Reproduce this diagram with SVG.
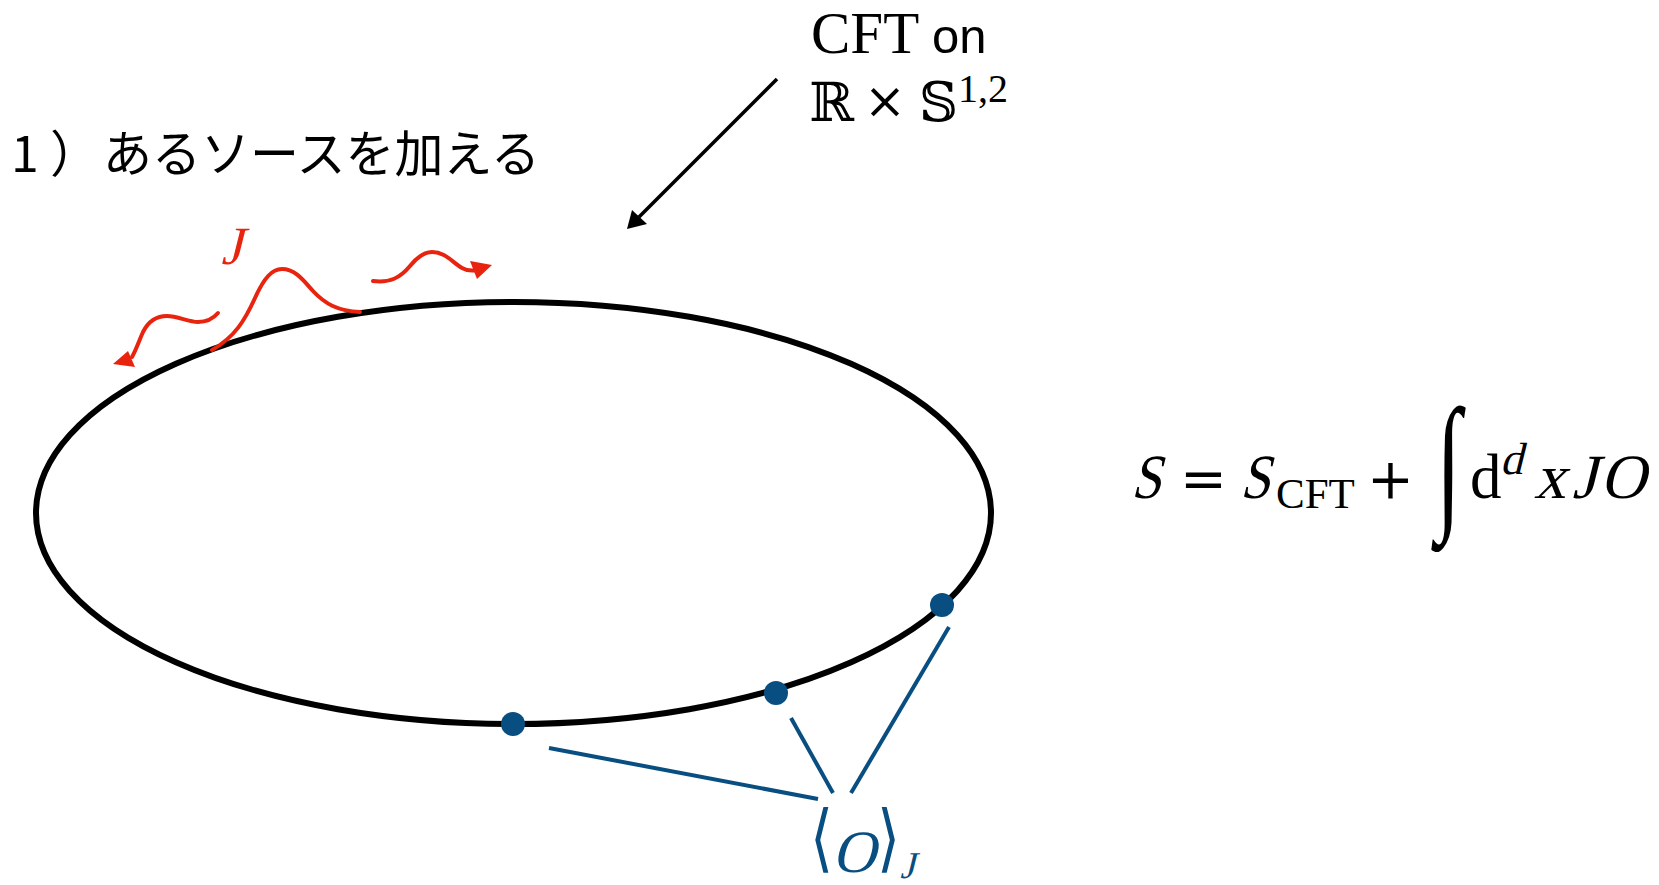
<svg xmlns="http://www.w3.org/2000/svg" width="1659" height="885" viewBox="0 0 1659 885">
<defs>
<style>
.serif{font-family:"Liberation Serif","Times New Roman","DejaVu Serif",serif;fill:#000}
.sans{font-family:"Liberation Sans",Arial,sans-serif;fill:#000}
.math{font-family:"DejaVu Serif","DejaVu Sans",serif;fill:#000}
.jp{font-family:"Noto Sans CJK JP",sans-serif;fill:#000}
.red{stroke:#e8240f;stroke-width:4;fill:none;stroke-linecap:round}
.redfill{fill:#e8240f}
.blue{stroke:#084e80;stroke-width:4;fill:none}
.dot{fill:#084e80}
</style>
</defs>
<rect width="1659" height="885" fill="#fff"/>
<g id="title">
<text class="serif" x="811" y="53" font-size="59">CFT</text>
<text class="sans" x="932" y="53" font-size="49">on</text>
<text class="math" x="809" y="121" font-size="54">ℝ</text>
<text class="math" x="864" y="118" font-size="50">×</text>
<text class="math" x="919" y="121" font-size="54">𝕊</text>
<text class="serif" x="958" y="102" font-size="40">1,2</text>
</g>
<g id="step-label">
<text class="jp" x="11" y="172" font-size="50">1</text>
<text class="jp" x="50" y="172" font-size="50">）</text>
<text class="jp" x="103" y="172" font-size="50" textLength="437" lengthAdjust="spacingAndGlyphs">あるソースを加える</text>
</g>
<g id="ellipse">
<ellipse cx="513.5" cy="513" rx="477.5" ry="211" fill="none" stroke="#000" stroke-width="6"/>
</g>
<g id="source">
<text class="serif" transform="translate(221,264) skewX(-14)" font-size="54" style="fill:#e8240f">J</text>
<path class="red" d="M212,350 C235,337 245,320 255,298 C264,278 272,269 282,269 C295,269 303,280 313,291 C325,304 338,311 360,312"/>
<path class="red" d="M218,313 C212,320 205,322 198,322 C188,322 178,316 167,316 C155,316 148,322 143,332 C139,341 136,350 132,357"/>
<polygon class="redfill" points="113,364 128,351 135,367"/>
<path class="red" d="M373,281 C390,283 400,278 410,266 C418,256 425,252 432,252 C445,252 452,262 462,268 C467,271 472,271 478,270"/>
<polygon class="redfill" points="492,265 470,261 477,279"/>
</g>
<g id="connectors">
<line x1="777" y1="79" x2="639" y2="217" stroke="#000" stroke-width="3.5"/>
<polygon points="627,229 632,210 647,224" fill="#000"/>
<line class="blue" x1="549" y1="748" x2="818" y2="799"/>
<line class="blue" x1="791" y1="718" x2="833" y2="793"/>
<line class="blue" x1="949" y1="627" x2="851" y2="793"/>
</g>
<g id="points">
<circle class="dot" cx="513" cy="724" r="12"/>
<circle class="dot" cx="776" cy="693" r="12"/>
<circle class="dot" cx="942" cy="605" r="12"/>
</g>
<g id="expectation">
<text class="math" transform="translate(810,863) scale(0.8,1)" font-size="74" style="fill:#084e80">⟨</text>
<text class="serif" transform="translate(832,872) skewX(-14)" font-size="60" style="fill:#084e80">O</text>
<text class="math" transform="translate(877,863) scale(0.8,1)" font-size="74" style="fill:#084e80">⟩</text>
<text class="serif" transform="translate(900,878) skewX(-14)" font-size="38" style="fill:#084e80">J</text>
</g>
<g id="equation">
<text class="serif" transform="translate(1131,498) skewX(-14) scale(0.85,1)" font-size="63">S</text>
<text class="math" x="1180" y="498" font-size="56">=</text>
<text class="serif" transform="translate(1240,498) skewX(-14) scale(0.85,1)" font-size="63">S</text>
<text class="serif" x="1276" y="508" font-size="43">CFT</text>
<text class="math" x="1367" y="498" font-size="56">+</text>
<text class="serif" transform="translate(1436,512) scale(0.7,1.15)" font-size="130">∫</text>
<text class="serif" x="1470" y="498" font-size="63">d</text>
<text class="serif" transform="translate(1500,474) skewX(-14)" font-size="45">d</text>
<text class="serif" transform="translate(1534,498) skewX(-14)" font-size="63">x</text>
<text class="serif" transform="translate(1572,498) skewX(-14)" font-size="63">J</text>
<text class="serif" transform="translate(1600,498) skewX(-14)" font-size="63">O</text>
</g>
</svg>
